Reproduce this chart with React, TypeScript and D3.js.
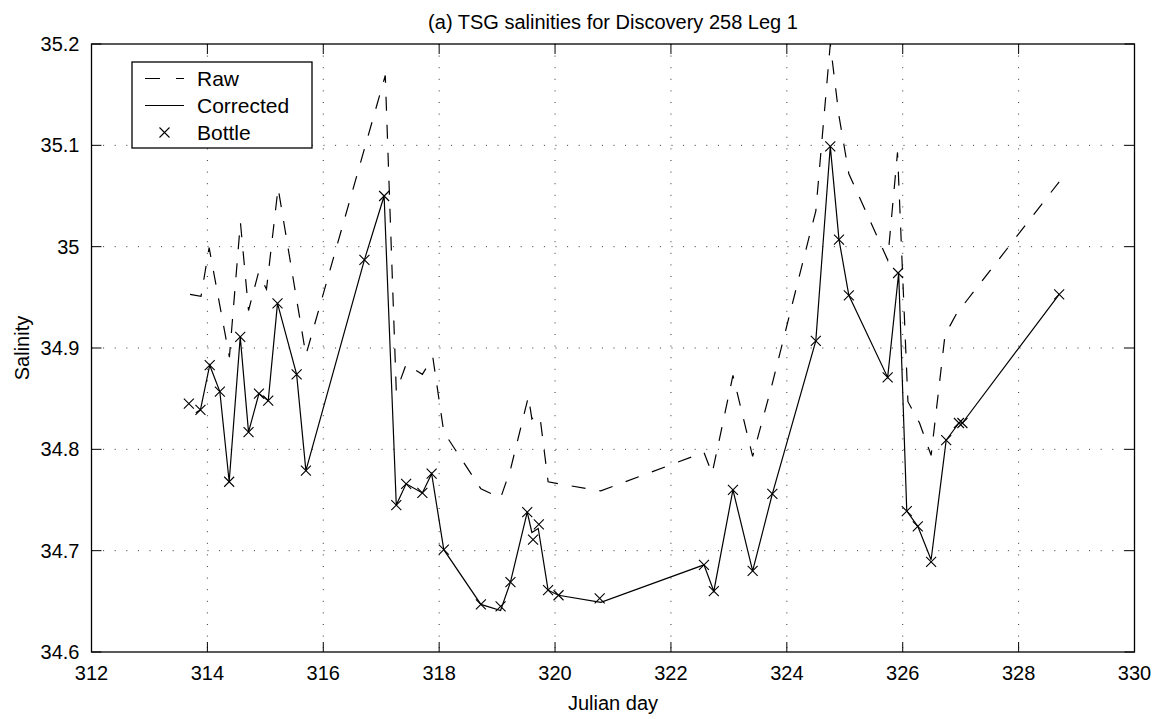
import React from 'react';
import * as d3 from 'd3';

const rawDay = [313.70, 313.89, 314.03, 314.38, 314.57, 314.71, 314.88, 315.02, 315.22, 315.70, 317.07, 317.26, 317.43, 317.71, 317.89, 318.08, 318.72, 319.06, 319.23, 319.54, 319.60, 319.67, 319.74, 319.88, 320.06, 320.79, 322.57, 322.71, 323.07, 323.41, 323.75, 324.40, 324.50, 324.75, 324.90, 325.07, 325.74, 325.91, 326.09, 326.29, 326.49, 326.73, 326.94, 327.04, 328.70];
const rawSal = [34.953, 34.951, 34.999, 34.891, 35.024, 34.937, 34.974, 34.958, 35.058, 34.893, 35.169, 34.857, 34.884, 34.874, 34.891, 34.817, 34.761, 34.752, 34.780, 34.852, 34.830, 34.834, 34.832, 34.768, 34.766, 34.759, 34.797, 34.776, 34.873, 34.793, 34.865, 35.013, 35.035, 35.200, 35.129, 35.072, 34.987, 35.093, 34.847, 34.826, 34.794, 34.913, 34.935, 34.942, 35.064];

const corrDay = [313.80, 313.88, 314.04, 314.215, 314.376, 314.567, 314.71, 314.89, 315.05, 315.21, 315.54, 315.70, 316.71, 317.05, 317.26, 317.43, 317.71, 317.87, 318.08, 318.72, 319.06, 319.23, 319.52, 319.60, 319.71, 319.88, 320.06, 320.79, 322.57, 322.74, 323.07, 323.41, 323.75, 324.50, 324.75, 324.90, 325.07, 325.74, 325.93, 326.07, 326.26, 326.49, 326.75, 326.97, 327.03, 328.70];
const corrSal = [34.836, 34.839, 34.883, 34.857, 34.768, 34.911, 34.817, 34.855, 34.848, 34.944, 34.874, 34.779, 34.987, 35.050, 34.745, 34.766, 34.757, 34.776, 34.701, 34.647, 34.641, 34.669, 34.738, 34.718, 34.722, 34.661, 34.656, 34.649, 34.686, 34.660, 34.760, 34.680, 34.756, 34.907, 35.099, 35.007, 34.952, 34.871, 34.974, 34.739, 34.724, 34.691, 34.809, 34.826, 34.826, 34.953];

const bottleDay = [313.68, 313.88, 314.04, 314.215, 314.376, 314.567, 314.71, 314.89, 315.05, 315.21, 315.54, 315.70, 316.71, 317.05, 317.26, 317.43, 317.71, 317.87, 318.08, 318.72, 319.06, 319.23, 319.52, 319.62, 319.72, 319.88, 320.06, 320.77, 322.57, 322.74, 323.07, 323.41, 323.75, 324.50, 324.75, 324.90, 325.07, 325.74, 325.92, 326.07, 326.26, 326.49, 326.75, 326.97, 327.03, 328.70];
const bottleSal = [34.845, 34.839, 34.883, 34.857, 34.768, 34.911, 34.817, 34.855, 34.848, 34.944, 34.874, 34.779, 34.987, 35.050, 34.745, 34.766, 34.757, 34.776, 34.701, 34.647, 34.645, 34.669, 34.738, 34.711, 34.726, 34.661, 34.656, 34.653, 34.686, 34.660, 34.760, 34.680, 34.756, 34.907, 35.099, 35.007, 34.952, 34.871, 34.974, 34.739, 34.724, 34.689, 34.809, 34.826, 34.826, 34.953];

const xTicks = [312, 314, 316, 318, 320, 322, 324, 326, 328, 330];
const yTicks = [34.6, 34.7, 34.8, 34.9, 35.0, 35.1, 35.2];
const yTickLabels = ['34.6', '34.7', '34.8', '34.9', '35', '35.1', '35.2'];

const titleText = '(a) TSG salinities for Discovery 258 Leg 1';
const xLabel = 'Julian day';
const yLabel = 'Salinity';
const legendLabels = ['Raw', 'Corrected', 'Bottle'];

const W = 1166;
const H = 719;
const L = 91.5, R = 1134.5, T = 44, B = 652;
const FONT = '"Liberation Sans", Arial, Helvetica, sans-serif';
const FS = 20;

export default function App() {
  const x = d3.scaleLinear().domain([312, 330]).range([L, R]);
  const y = d3.scaleLinear().domain([34.6, 35.2]).range([B, T]);

  const rawPts: [number, number][] = rawDay.map((d, i) => [d, rawSal[i]]);
  const corrPts: [number, number][] = corrDay.map((d, i) => [d, corrSal[i]]);
  const line = d3.line<[number, number]>().x(d => x(d[0])).y(d => y(d[1]));

  const tick = 10;
  const ms = 5;
  const cross = (cx: number, cy: number, key: string) => (
    <path key={key} d={`M${cx - ms},${cy - ms}L${cx + ms},${cy + ms}M${cx - ms},${cy + ms}L${cx + ms},${cy - ms}`} stroke="#000" strokeWidth={1.1} fill="none" />
  );

  const lg = { x0: 132, y0: 62, x1: 312, y1: 148 };
  const rows = [78.5, 105.5, 132.5];

  return (
    <svg width={W} height={H} style={{ position: 'absolute', left: 0, top: 0, background: '#fff' }} fontFamily={FONT}>
      <rect x={0} y={0} width={W} height={H} fill="#fff" />
      <defs>
        <clipPath id="plotclip">
          <rect x={L} y={T - 1} width={R - L} height={B - T + 2} />
        </clipPath>
      </defs>
      {/* grid */}
      {xTicks.slice(1, -1).map(t => (
        <line key={'gx' + t} x1={x(t)} x2={x(t)} y1={T} y2={B} stroke="#333" strokeWidth={1} strokeDasharray="1 10.6" />
      ))}
      {yTicks.slice(1, -1).map(t => (
        <line key={'gy' + t} x1={L} x2={R} y1={y(t)} y2={y(t)} stroke="#333" strokeWidth={1} strokeDasharray="1 10.6" />
      ))}
      {/* ticks */}
      {xTicks.map(t => (
        <g key={'tx' + t}>
          <line x1={x(t)} x2={x(t)} y1={B} y2={B - tick} stroke="#000" strokeWidth={1} />
          <line x1={x(t)} x2={x(t)} y1={T} y2={T + tick} stroke="#000" strokeWidth={1} />
          <text x={x(t)} y={B + 28} textAnchor="middle" fontSize={FS} fill="#000">{t}</text>
        </g>
      ))}
      {yTicks.map((t, i) => (
        <g key={'ty' + t}>
          <line x1={L} x2={L + tick} y1={y(t)} y2={y(t)} stroke="#000" strokeWidth={1} />
          <line x1={R} x2={R - tick} y1={y(t)} y2={y(t)} stroke="#000" strokeWidth={1} />
          <text x={L - 12} y={y(t) + 7} textAnchor="end" fontSize={FS} fill="#000">{yTickLabels[i]}</text>
        </g>
      ))}
      {/* data */}
      <g clipPath="url(#plotclip)">
        <path d={line(rawPts) || ''} fill="none" stroke="#000" strokeWidth={1.2} strokeDasharray="14 14" />
        <path d={line(corrPts) || ''} fill="none" stroke="#000" strokeWidth={1.2} />
      </g>
      {bottleDay.map((d, i) => cross(x(d), y(bottleSal[i]), 'b' + i))}
      {/* axes box */}
      <rect x={L} y={T} width={R - L} height={B - T} fill="none" stroke="#000" strokeWidth={1.3} />
      {/* legend */}
      <rect x={lg.x0} y={lg.y0} width={lg.x1 - lg.x0} height={lg.y1 - lg.y0} fill="#fff" stroke="#000" strokeWidth={1.3} />
      <line x1={145} x2={184} y1={rows[0]} y2={rows[0]} stroke="#000" strokeWidth={1.2} strokeDasharray="15 16" />
      <line x1={145} x2={184} y1={rows[1]} y2={rows[1]} stroke="#000" strokeWidth={1.2} />
      {cross(164.5, rows[2], 'lgx')}
      {legendLabels.map((s, i) => (
        <text key={s} x={197} y={rows[i] + 7.5} fontSize={FS + 1} fill="#000">{s}</text>
      ))}
      {/* labels */}
      <text x={(L + R) / 2} y={29} textAnchor="middle" fontSize={FS} fill="#000">{titleText}</text>
      <text x={(L + R) / 2} y={710} textAnchor="middle" fontSize={FS} fill="#000">{xLabel}</text>
      <text transform={`translate(29,${(T + B) / 2}) rotate(-90)`} textAnchor="middle" fontSize={FS} fill="#000">{yLabel}</text>
    </svg>
  );
}
